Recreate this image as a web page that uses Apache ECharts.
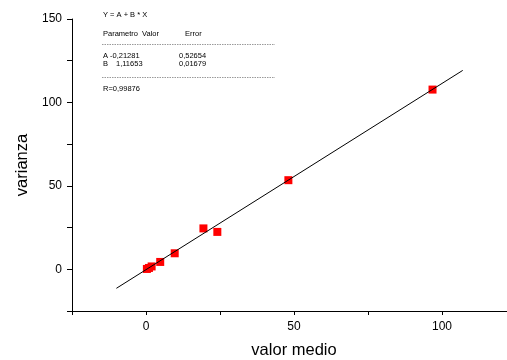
<!DOCTYPE html>
<html>
<head>
    <meta charset="UTF-8">
    <title>varianza vs valor medio</title>
    <script type="text/javascript" src="https://cdn.jsdelivr.net/npm/echarts@6/dist/echarts.min.js"></script>
    <style>
        html, body { margin: 0; padding: 0; background: #fff; }
    </style>
</head>
<body>
<div id="main" style="width: 507px;height:360px;"></div>
<script type="text/javascript">
    // punti misurati (valor medio, varianza)
    var valorMedio = [0.3, 1.0, 1.9, 4.8, 9.7, 19.4, 24.1, 48.1, 96.8];
    var varianza   = [0.2, 0.8, 1.7, 4.4, 9.6, 24.5, 22.4, 53.4, 107.7];

    // estremi della retta di regressione
    var rettaX = [-10, 107];
    var rettaY = [-11.4, 119.2];

    // etichette degli assi
    var xTickLabels = [0, 50, 100];
    var yTickLabels = [0, 50, 100, 150];

    // tabella del fit
    var fitRows = [
        ['A', '-0,21281', '0,52654'],
        ['B', '1,11653', '0,01679']
    ];

    var punti = valorMedio.map(function (x, i) { return [x, varianza[i]]; });
    var retta = rettaX.map(function (x, i) { return [x, rettaY[i]]; });

    var font = 'Liberation Sans, Arial, sans-serif';
    var small = { fontSize: 7.5, fontFamily: font, fill: '#000' };

    function testo(x, y, t) {
        return { type: 'text', left: x, top: y, style: Object.assign({ text: t }, small) };
    }
    function tratteggio(y) {
        return {
            type: 'line',
            shape: { x1: 102, y1: y, x2: 275, y2: y },
            style: { stroke: '#555', lineWidth: 0.6, lineDash: [1.5, 1] }
        };
    }

    var graphic = [
        testo(103, 11, 'Y = A + B * X'),
        testo(103, 30, 'Parametro'),
        testo(142, 30, 'Valor'),
        testo(185, 30, 'Error'),
        tratteggio(44.5),
        tratteggio(77.5),
        testo(103, 85, 'R=0,99876')
    ];
    fitRows.forEach(function (r, i) {
        var y = 52 + i * 7.5;
        graphic.push(testo(103, y, r[0]));
        graphic.push(testo(r[1].charAt(0) === '-' ? 110 : 116, y, r[1]));
        graphic.push(testo(179, y, r[2]));
    });

    var myChart = echarts.init(document.getElementById('main'));

    var option = {
        animation: false,
        backgroundColor: '#fff',
        grid: { left: 72, width: 444, top: 19, height: 292, outerBoundsMode: 'none' },
        xAxis: {
            type: 'value',
            min: -25,
            max: 125,
            interval: 25,
            name: 'valor medio',
            nameLocation: 'middle',
            nameGap: 31,
            nameTextStyle: { fontSize: 16.5, fontFamily: font, color: '#000' },
            axisLine: { onZero: false, lineStyle: { color: '#000', width: 1 } },
            axisTick: { length: 4, lineStyle: { color: '#000' } },
            axisLabel: {
                margin: 10,
                fontSize: 12,
                fontFamily: font,
                color: '#000',
                formatter: function (v) { return xTickLabels.indexOf(v) >= 0 ? String(v) : ''; }
            },
            splitLine: { show: false }
        },
        yAxis: {
            type: 'value',
            min: -25,
            max: 150,
            interval: 25,
            name: 'varianza',
            nameLocation: 'middle',
            nameGap: 33,
            nameTextStyle: { fontSize: 16.5, fontFamily: font, color: '#000' },
            axisLine: { onZero: false, lineStyle: { color: '#000', width: 1 } },
            axisTick: { length: 5, lineStyle: { color: '#000' } },
            axisLabel: {
                margin: 10,
                fontSize: 12,
                fontFamily: font,
                color: '#000',
                formatter: function (v) { return yTickLabels.indexOf(v) >= 0 ? String(v) : ''; }
            },
            splitLine: { show: false }
        },
        graphic: graphic,
        series: [
            {
                name: 'fit',
                type: 'line',
                data: retta,
                symbol: 'none',
                lineStyle: { color: '#000', width: 1 },
                z: 2
            },
            {
                name: 'dati',
                type: 'scatter',
                data: punti,
                symbol: 'rect',
                symbolSize: 8,
                itemStyle: { color: '#ff0000', opacity: 1 },
                z: 1
            }
        ]
    };
    myChart.setOption(option);
</script>
</body>
</html>
